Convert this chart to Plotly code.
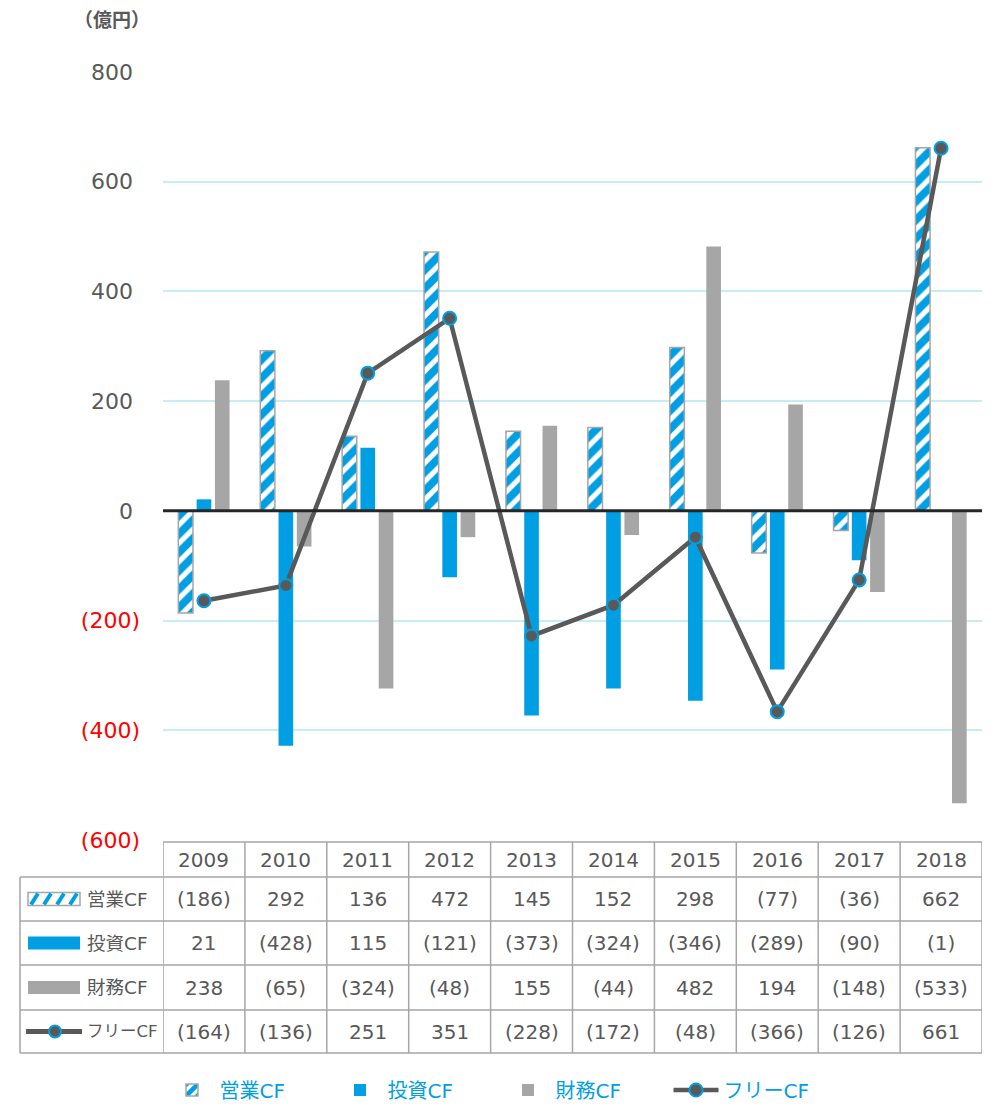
import plotly.graph_objects as go

# ---------------- data ----------------
years = ["2009", "2010", "2011", "2012", "2013", "2014", "2015", "2016", "2017", "2018"]
operating_cf = [-186, 292, 136, 472, 145, 152, 298, -77, -36, 662]
investing_cf = [21, -428, 115, -121, -373, -324, -346, -289, -90, -1]
financing_cf = [238, -65, -324, -48, 155, -44, 482, 194, -148, -533]
free_cf = [-164, -136, 251, 351, -228, -172, -48, -366, -126, 661]
series_names = ["営業CF", "投資CF", "財務CF", "フリーCF"]
y_ticks = [-600, -400, -200, 0, 200, 400, 600, 800]
unit_label = "（億円）"

# ---------------- styles ----------------
BLUE = "#009FE3"
GRAY_BAR = "#A6A6A6"
LINE_GRAY = "#595959"
TEXT = "#595959"
GRID = "#C8EBF8"
TABLE_LINE = "#A6A6A6"
FONT = "DejaVu Sans, Noto Sans CJK JP, sans-serif"
LABEL_SIZE = {"フリーCF": 16.5}

# page body has an 8px margin -> shrink figure so it fits in the 993x1105 window
OFF = 8
W, H = 993 - OFF, 1105 - OFF
L, T = 163 - OFF, 72 - OFF
R = 11
B = H - (840 - OFF)
PW = W - L - R
PH = H - T - B


def px_x(p):
    """reference-screen x pixel -> paper coordinate"""
    return (p - OFF - L) / PW


def px_y(p):
    """reference-screen y pixel -> paper coordinate"""
    return (H - B - (p - OFF)) / PH


def fmt(v):
    return f"({abs(v)})" if v < 0 else str(v)


def tick_text(v):
    if v < 0:
        return f"<span style='color:#FF0000'>({abs(v):,})</span>"
    return f"{v:,}\u00a0"


fig = go.Figure()
fig.add_trace(go.Bar(
    name=series_names[0], x=years, y=operating_cf,
    marker=dict(color="white", line=dict(color=GRAY_BAR, width=1.5),
                pattern=dict(shape="/", fgcolor=BLUE, bgcolor="white", size=13, solidity=0.6,
                             fgopacity=1, fillmode="replace")),
))
fig.add_trace(go.Bar(name=series_names[1], x=years, y=investing_cf,
                     marker=dict(color=BLUE, line=dict(width=0))))
fig.add_trace(go.Bar(name=series_names[2], x=years, y=financing_cf,
                     marker=dict(color=GRAY_BAR, line=dict(width=0))))
fig.add_trace(go.Scatter(
    name=series_names[3], x=years, y=free_cf, mode="lines+markers",
    line=dict(color=LINE_GRAY, width=4.5),
    marker=dict(size=13, color=LINE_GRAY, line=dict(color=BLUE, width=2)),
))

shapes = []
annotations = []

# zero line on top of bars
shapes.append(dict(type="line", xref="paper", yref="y", x0=0, x1=1, y0=0, y1=0,
                   line=dict(color="#262626", width=3), layer="above"))

# ---------------- data table ----------------
row_edges_px = [842, 877, 921, 965, 1010, 1053]
left_px = 20
lc = dict(color=TABLE_LINE, width=1.5)
n = len(years)
for i, yp in enumerate(row_edges_px):
    x0 = 0 if i == 0 else px_x(left_px)
    shapes.append(dict(type="line", xref="paper", yref="paper", x0=x0, x1=1,
                       y0=px_y(yp), y1=px_y(yp), line=lc, layer="above"))
for k in range(n + 1):
    xb = (k - 0.5)
    shapes.append(dict(type="line", xref="x", yref="paper", x0=xb, x1=xb,
                       y0=px_y(row_edges_px[0]), y1=px_y(row_edges_px[-1]), line=lc, layer="above"))
shapes.append(dict(type="line", xref="paper", yref="paper", x0=px_x(left_px), x1=px_x(left_px),
                   y0=px_y(row_edges_px[1]), y1=px_y(row_edges_px[-1]), line=lc, layer="above"))

hy = (row_edges_px[0] + row_edges_px[1]) / 2
for k, yr in enumerate(years):
    annotations.append(dict(x=k, xref="x", y=px_y(hy), yref="paper", text=yr, showarrow=False,
                            font=dict(size=20, color=TEXT, family=FONT), xanchor="center", yanchor="middle"))

rows = [operating_cf, investing_cf, financing_cf, free_cf]
for r, vals in enumerate(rows):
    cy = (row_edges_px[r + 1] + row_edges_px[r + 2]) / 2
    for k, v in enumerate(vals):
        annotations.append(dict(x=k, xref="x", y=px_y(cy), yref="paper", text=fmt(v), showarrow=False,
                                font=dict(size=20, color=TEXT, family=FONT), xanchor="center", yanchor="middle"))
    nm = series_names[r]
    annotations.append(dict(x=px_x(85), xref="paper", y=px_y(cy), yref="paper", text=nm,
                            showarrow=False, font=dict(size=LABEL_SIZE.get(nm, 18.5), color=TEXT, family=FONT),
                            xanchor="left", yanchor="middle"))

# table legend icons
ix0, ix1 = 28, 80
cy = (row_edges_px[1] + row_edges_px[2]) / 2
ya, yb = cy - 6.5, cy + 6.5
shapes.append(dict(type="rect", xref="paper", yref="paper", x0=px_x(ix0), x1=px_x(ix1),
                   y0=px_y(yb), y1=px_y(ya), fillcolor="white", line=dict(color=GRAY_BAR, width=1.5), layer="above"))
xs = ix0 + 3
while xs + 7 <= ix1 - 1:
    shapes.append(dict(type="line", xref="paper", yref="paper", x0=px_x(xs), x1=px_x(xs + 7),
                       y0=px_y(yb - 1), y1=px_y(ya + 1), line=dict(color=BLUE, width=4), layer="above"))
    xs += 13
cy = (row_edges_px[2] + row_edges_px[3]) / 2
shapes.append(dict(type="rect", xref="paper", yref="paper", x0=px_x(ix0), x1=px_x(ix1),
                   y0=px_y(cy + 6.5), y1=px_y(cy - 6.5), fillcolor=BLUE, line=dict(width=0), layer="above"))
cy = (row_edges_px[3] + row_edges_px[4]) / 2
shapes.append(dict(type="rect", xref="paper", yref="paper", x0=px_x(ix0), x1=px_x(ix1),
                   y0=px_y(cy + 6.5), y1=px_y(cy - 6.5), fillcolor=GRAY_BAR, line=dict(width=0), layer="above"))
cy = (row_edges_px[4] + row_edges_px[5]) / 2
shapes.append(dict(type="line", xref="paper", yref="paper", x0=px_x(26), x1=px_x(82),
                   y0=px_y(cy), y1=px_y(cy), line=dict(color=LINE_GRAY, width=5), layer="above"))
shapes.append(dict(type="circle", xref="paper", yref="paper", x0=px_x(49), x1=px_x(61),
                   y0=px_y(cy + 6), y1=px_y(cy - 6), fillcolor=LINE_GRAY,
                   line=dict(color=BLUE, width=2), layer="above"))

# unit label
annotations.append(dict(x=px_x(112), xref="paper", y=px_y(20), yref="paper", text=f"<b>{unit_label}</b>",
                        showarrow=False, font=dict(size=19, color=TEXT, family=FONT),
                        xanchor="center", yanchor="middle"))

fig.update_layout(
    width=W, height=H,
    margin=dict(l=L, r=R, t=T, b=B, pad=0),
    paper_bgcolor="white", plot_bgcolor="white",
    barmode="group", bargap=0.33, bargroupgap=0.2,
    font=dict(family=FONT, color=TEXT),
    xaxis=dict(type="category", range=[-0.5, n - 0.5], showticklabels=False, showgrid=False,
               zeroline=False, showline=False, ticks=""),
    yaxis=dict(range=[-600, 800], tickvals=y_ticks, ticktext=[tick_text(v) for v in y_ticks],
               showgrid=True, gridcolor=GRID, gridwidth=1.5, zeroline=False, showline=False,
               ticks="", ticklabelstandoff=22, tickfont=dict(size=22, color=TEXT, family=FONT)),
    legend=dict(orientation="h", xref="container", yref="container", x=0.5, xanchor="center",
                y=(1105 - 1090) / H, yanchor="middle", font=dict(size=20, color=BLUE, family=FONT),
                itemwidth=45, traceorder="normal", entrywidth=108, entrywidthmode="pixels"),
    shapes=shapes,
    annotations=annotations,
)

fig.write_html("out.html")
